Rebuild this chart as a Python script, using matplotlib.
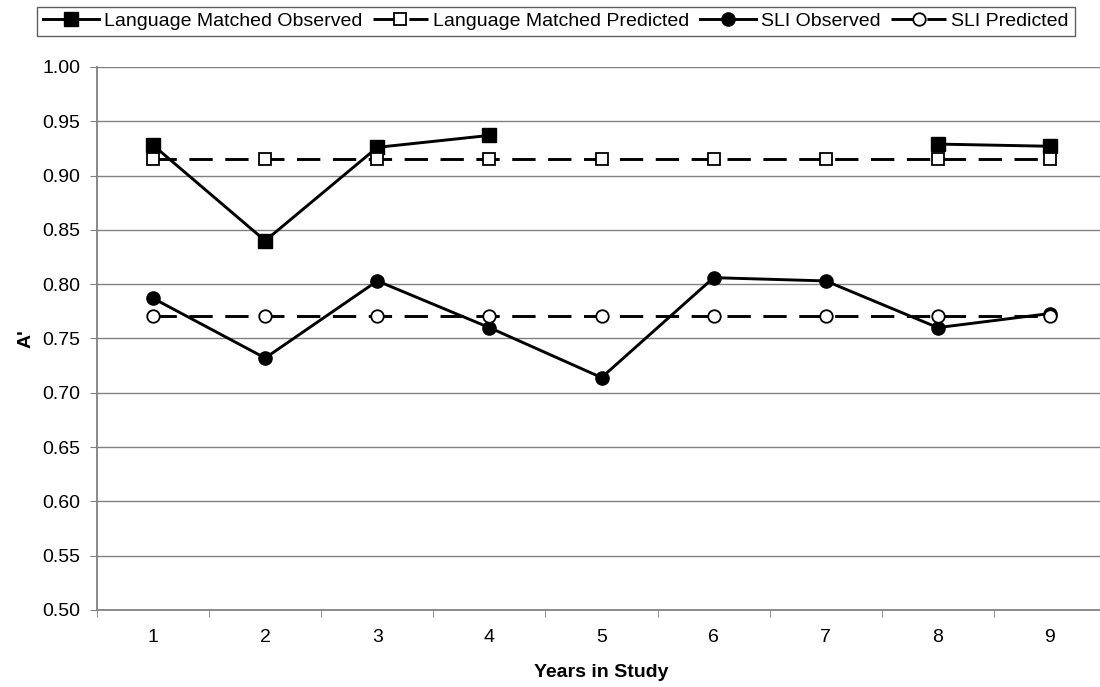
import numpy as np
import matplotlib
matplotlib.use("Agg")
import matplotlib.pyplot as plt
from matplotlib.ticker import FixedLocator, FormatStrFormatter

plt.rcParams['font.family'] = ['Liberation Sans', 'DejaVu Sans']

years = [1, 2, 3, 4, 5, 6, 7, 8, 9]
lm_observed = [0.928, 0.840, 0.926, 0.937, np.nan, np.nan, np.nan, 0.929, 0.927]
lm_predicted = [0.915] * 9
sli_observed = [0.787, 0.732, 0.803, 0.760, 0.714, 0.806, 0.803, 0.760, 0.773]
sli_predicted = [0.771] * 9
yticks = [0.50, 0.55, 0.60, 0.65, 0.70, 0.75, 0.80, 0.85, 0.90, 0.95, 1.00]

fig = plt.figure(figsize=(11, 6.87), dpi=100)
ax = fig.add_axes([0.0882, 0.1121, 0.9173, 0.7904])

for y in yticks[1:]:
    ax.axhline(y, color='#808080', lw=1.0, zorder=0)

lw = 2.1
l1, = ax.plot(years, lm_observed, color='black', lw=lw, marker='s', ms=10,
              mfc='black', mec='black', label='Language Matched Observed', zorder=3)
l2, = ax.plot(years, lm_predicted, color='black', lw=lw, dashes=(8.0, 4.3), marker='s', ms=9,
              mfc='white', mec='black', mew=1.3, label='Language Matched Predicted', zorder=3)
l3, = ax.plot(years, sli_observed, color='black', lw=lw, marker='o', ms=9.5,
              mfc='black', mec='black', label='SLI Observed', zorder=3)
l4, = ax.plot(years, sli_predicted, color='black', lw=lw, dashes=(8.0, 4.3), marker='o', ms=9,
              mfc='white', mec='black', mew=1.3, label='SLI Predicted', zorder=3)

ax.set_xlim(0.5, 9.5)
ax.set_ylim(0.50, 1.00)
ax.set_yticks(yticks)
ax.yaxis.set_major_formatter(FormatStrFormatter('%.2f'))
ax.set_xticks(years)
ax.set_xticklabels([str(y) for y in years])
ax.xaxis.set_minor_locator(FixedLocator(np.arange(0.5, 10.0, 1.0)))
ax.tick_params(axis='x', which='major', length=0, pad=14, labelsize=14)
ax.tick_params(axis='x', which='minor', length=5, color='#808080', direction='out')
ax.tick_params(axis='y', which='major', length=5, color='#808080', direction='out', labelsize=14, pad=7)

for s in ['top', 'right']:
    ax.spines[s].set_visible(False)
for s in ['left', 'bottom']:
    ax.spines[s].set_color('#808080')
    ax.spines[s].set_linewidth(1.3)

ax.set_xlabel('Years in Study', fontsize=14, fontweight='bold', labelpad=13)
ax.set_ylabel("A'", fontsize=14, fontweight='bold', labelpad=6)

fig.legend(handles=[l1, l2, l3, l4], loc='center', bbox_to_anchor=(0.5055, 0.969), ncol=4,
           fontsize=14, frameon=True, fancybox=False, edgecolor='#606060', framealpha=1,
           handlelength=2.85, handletextpad=0.26, columnspacing=0.55, borderpad=0.3,
           borderaxespad=0)

fig.savefig('out.png', dpi=100)
